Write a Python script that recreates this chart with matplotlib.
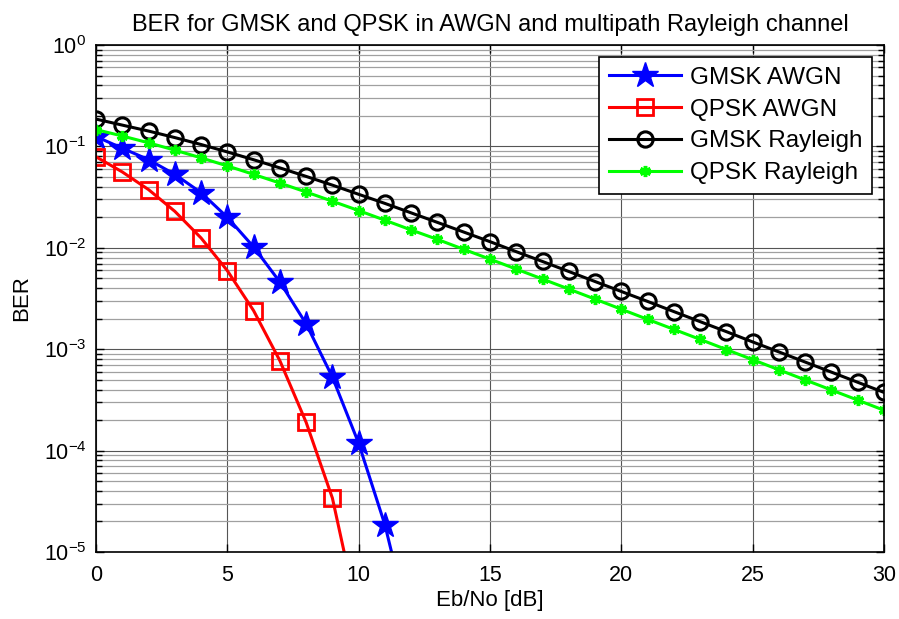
import math
import matplotlib
matplotlib.use("Agg")
import matplotlib.pyplot as plt
from matplotlib.ticker import FixedLocator, FuncFormatter, LogLocator, NullFormatter

plt.rcParams['font.family'] = ['Liberation Sans', 'DejaVu Sans']
plt.rcParams['mathtext.fontset'] = 'custom'
plt.rcParams['mathtext.rm'] = 'Liberation Sans'
plt.rcParams['mathtext.it'] = 'Liberation Sans'

# ---- data ----
ebno_gmsk_awgn = [0, 1, 2, 3, 4, 5, 6, 7, 8, 9, 10, 11, 12]
ber_gmsk_awgn = [0.125, 0.096, 0.074, 0.053, 0.035, 0.020, 0.0102, 0.0046,
                 0.00178, 0.00053, 0.000118, 1.85e-5, 1.6e-6]

ebno_qpsk_awgn = [0, 1, 2, 3, 4, 5, 6, 7, 8, 9, 10]
ber_qpsk_awgn = [0.079, 0.056, 0.0375, 0.0229, 0.0125, 0.00595, 0.0024,
                 0.00077, 0.00019, 3.4e-5, 2.2e-6]

ebno_rayleigh = list(range(0, 31))
ber_gmsk_rayleigh = [0.186, 0.1622, 0.1417, 0.1222, 0.1044, 0.0882, 0.0739,
                     0.0614, 0.0506, 0.0415, 0.0337, 0.0274, 0.0221, 0.0178,
                     0.0143, 0.0115, 0.00916, 0.00733, 0.00584, 0.00465,
                     0.00371, 0.00296, 0.00235, 0.00187, 0.00149, 0.00118,
                     0.00094, 0.000747, 0.000594, 0.000472, 0.000375]
ber_qpsk_rayleigh = [0.1464, 0.1267, 0.1085, 0.0919, 0.0771, 0.0642, 0.0530,
                     0.0435, 0.0355, 0.0288, 0.0233, 0.0187, 0.0150, 0.0121,
                     0.00966, 0.00773, 0.00617, 0.00492, 0.00392, 0.00312,
                     0.00248, 0.00197, 0.00157, 0.00125, 0.000992, 0.000789,
                     0.000627, 0.000498, 0.000396, 0.000315, 0.00025]

labels = ['GMSK AWGN', 'QPSK AWGN', 'GMSK Rayleigh', 'QPSK Rayleigh']
x_ticks = [0, 5, 10, 15, 20, 25, 30]

# ---- figure ----
fig = plt.figure(figsize=(8.99, 6.19), dpi=100)
ax = fig.add_axes([0.1068, 0.1082, 0.8765, 0.8191])

ax.semilogy(ebno_gmsk_awgn, ber_gmsk_awgn, color='#0000ff', lw=2.2,
            marker='*', ms=19, mfc='#0000ff', mec='#0000ff', label=labels[0])
ax.semilogy(ebno_qpsk_awgn, ber_qpsk_awgn, color='#ff0000', lw=2.2,
            marker='s', ms=11, mfc='none', mec='#ff0000', mew=2, label=labels[1])
ax.semilogy(ebno_rayleigh, ber_gmsk_rayleigh, color='black', lw=2.2,
            marker='o', ms=11, mfc='none', mec='black', mew=2.2, label=labels[2])
ax.semilogy(ebno_rayleigh, ber_qpsk_rayleigh, color='#00ff00', lw=2.2,
            marker=(6, 2, 0), ms=8, mec='#00ff00', mew=2.5, label=labels[3])

ax.set_xlim(0, 30)
ax.set_ylim(1e-5, 1)
ax.xaxis.set_major_locator(FixedLocator(x_ticks))
ax.yaxis.set_major_locator(LogLocator(base=10, numticks=10))
ax.yaxis.set_minor_locator(LogLocator(base=10, subs=range(2, 10), numticks=20))
ax.yaxis.set_minor_formatter(NullFormatter())
ax.yaxis.set_major_formatter(FuncFormatter(lambda v, p: r'$\mathregular{10^{%d}}$' % round(math.log10(v))))

ax.grid(True, which='major', color='#555555', lw=0.8)
ax.grid(True, which='minor', axis='y', color='#a0a0a0', lw=0.9)
ax.set_axisbelow(True)

ax.tick_params(which='both', direction='in', top=True, right=True, labelsize=15.5)
ax.tick_params(which='major', length=6, width=1)
ax.tick_params(which='minor', length=4, width=1)
ax.tick_params(axis='x', which='major', pad=9)
ax.tick_params(axis='y', which='major', pad=7)
for s in ax.spines.values():
    s.set_linewidth(1.2)

ax.set_title('BER for GMSK and QPSK in AWGN and multipath Rayleigh channel', fontsize=17, pad=10)
ax.set_xlabel('Eb/No [dB]', fontsize=16, labelpad=3)
ax.set_ylabel('BER', fontsize=16, labelpad=8)

leg = ax.legend(loc='upper right', fontsize=17.5, fancybox=False, edgecolor='black',
                framealpha=1, borderpad=0.4, handlelength=3.0, handletextpad=0.35,
                labelspacing=0.4, borderaxespad=0,
                bbox_to_anchor=(0.985, 0.976))
leg.get_frame().set_linewidth(1.2)

fig.savefig('out.png', dpi=100)
